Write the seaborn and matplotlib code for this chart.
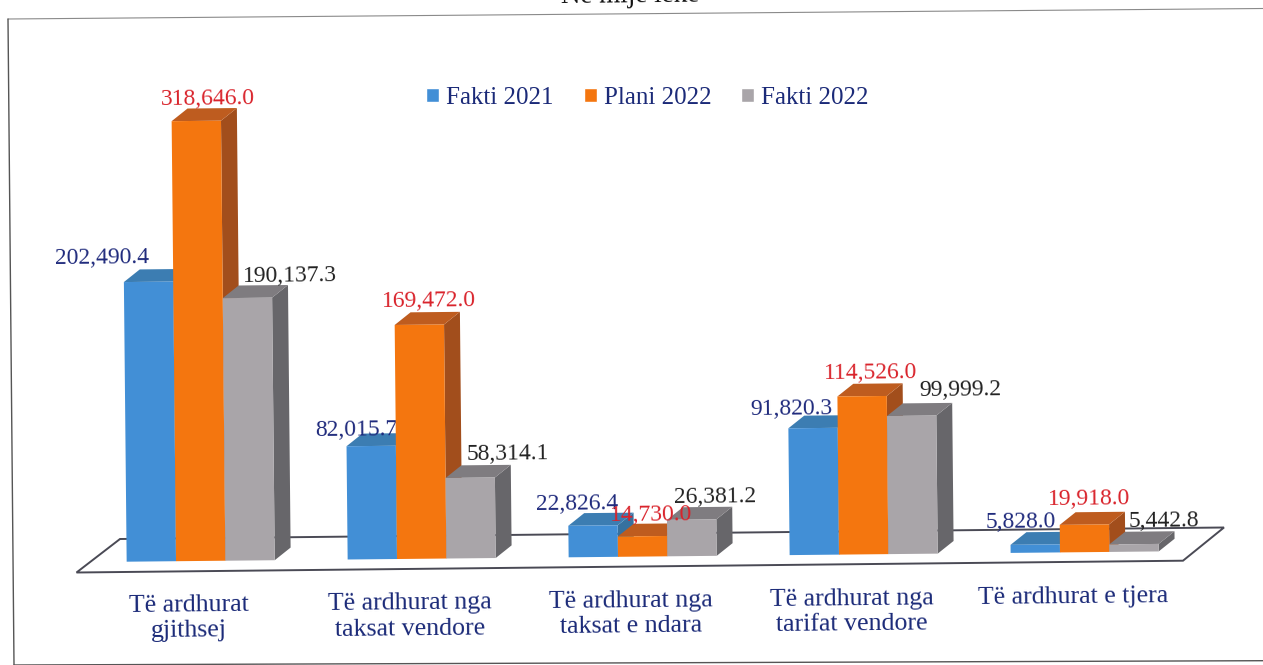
import matplotlib
matplotlib.use("Agg")
import matplotlib.pyplot as plt
import pandas as pd
import seaborn as sns
from matplotlib.lines import Line2D
from matplotlib.patches import Polygon
from matplotlib.transforms import Affine2D

categories = ["Të ardhurat\ngjithsej", "Të ardhurat nga\ntaksat vendore",
              "Të ardhurat nga\ntaksat e ndara", "Të ardhurat nga\ntarifat vendore",
              "Të ardhurat e tjera"]
series_names = ["Fakti 2021", "Plani 2022", "Fakti 2022"]
fakti_2021 = [202490.4, 82015.7, 22826.4, 91820.3, 5828.0]
plani_2022 = [318646.0, 169472.0, 14730.0, 114526.0, 19918.0]
fakti_2022 = [190137.3, 58314.1, 26381.2, 99999.2, 5442.8]

# label offsets from the top of each bar's front face, in pixels
offsets_2021 = [(-47, 24), (-15, 16), (-16, 21), (-22, 19), (-15, 22)]
offsets_plan = [(12, 22), (10, 24), (9, 21), (8, 23), (5, 26)]
offsets_2022 = [(42, 22), (37, 24), (23, 23), (49, 26), (30, 23)]

front_colors = ["#428FD6", "#F4760F", "#A9A5A9"]
top_colors = ["#3C7DB2", "#BE5C1F", "#7F7C80"]
side_colors = ["#36719F", "#A24E1C", "#67666A"]
label_colors = ["#1F2A7C", "#D9232B", "#222222"]
NAVY = "#1B2A78"

W, H = 1263, 665
PX_PER_CAT = 221.0
PX_PER_UNIT = 1.381e-3
CX0, BASE = 200.7, 561.7
DX, DY = 16.0, 12.5
TILT = 0.57

sns.set_theme(style="white")
plt.rcParams["font.family"] = ["Liberation Serif", "DejaVu Serif"]

df = pd.DataFrame({
    "kategoria": categories * 3,
    "seria": [s for s in series_names for _ in categories],
    "vlera": fakti_2021 + plani_2022 + fakti_2022,
})

fig = plt.figure(figsize=(W / 100, H / 100), dpi=100, facecolor="white")
ax = fig.add_axes([0, 0, 1, 1])
sns.barplot(data=df, x="kategoria", y="vlera", hue="seria", palette=front_colors,
            width=0.67, gap=0, saturation=1, errorbar=None, ax=ax)

ax.set_xlim((0 - CX0) / PX_PER_CAT, (W - CX0) / PX_PER_CAT)
ax.set_ylim(-(H - BASE) / PX_PER_UNIT, BASE / PX_PER_UNIT)
ax.set_xlabel("")
ax.set_ylabel("")
ax.set_yticks([])
ax.set_facecolor("none")
for s in ax.spines.values():
    s.set_visible(False)

tilt = Affine2D().rotate_deg_around(126.7, H - BASE, TILT)
data_tf = ax.transData + tilt
px_tf = Affine2D().scale(1, -1).translate(0, H)   # picture pixels, origin top-left

# frame of the scanned page
frame = [((8, 19), (1263, 8.5), "#8A8A8A", 0.8),
         ((8, 19), (14, 665), "#555555", 1.0),
         ((14, 665), (1263, 660.7), "#555555", 1.0)]
for a, b, col, lw in frame:
    fig.add_artist(Line2D([a[0], b[0]], [a[1], b[1]], transform=px_tf, color=col, lw=lw))

# floor
ax.add_patch(Polygon([(76.5, 572.5), (120, 539), (1224, 527.5), (1183, 560.7)],
                     closed=True, transform=px_tf, facecolor="white",
                     edgecolor="#4A4A55", lw=1.4, zorder=1))

dx_d = DX / PX_PER_CAT
dy_d = DY / PX_PER_UNIT
all_offsets = [offsets_2021, offsets_plan, offsets_2022]
all_values = [fakti_2021, plani_2022, fakti_2022]

for h, cont in enumerate(ax.containers):
    for c, bar in enumerate(cont):
        z = 2 + (c * 3 + h) * 0.1
        x0, w, v = bar.get_x(), bar.get_width(), bar.get_height()
        bar.set_transform(data_tf)
        bar.set_zorder(z + 0.05)
        bar.set_linewidth(0)
        side = [(x0 + w, 0), (x0 + w + dx_d, dy_d), (x0 + w + dx_d, v + dy_d), (x0 + w, v)]
        top = [(x0, v), (x0 + dx_d, v + dy_d), (x0 + w + dx_d, v + dy_d), (x0 + w, v)]
        ax.add_patch(Polygon(side, closed=True, transform=data_tf, facecolor=side_colors[h],
                             edgecolor="none", zorder=z))
        ax.add_patch(Polygon(top, closed=True, transform=data_tf, facecolor=top_colors[h],
                             edgecolor="none", zorder=z))
        # Blue labels sit behind the neighbouring orange bar, the others on top.
        lz = z + 0.07 if h == 0 else 10
        ax.annotate(f"{all_values[h][c]:,.1f}", xy=(x0 + w / 2, v), xycoords=data_tf,
                    xytext=all_offsets[h][c], textcoords="offset pixels",
                    ha="center", va="center", rotation=TILT, fontsize=17,
                    color=label_colors[h], zorder=lz)

# category labels as tick labels
ax.tick_params(axis="x", length=0, pad=-51)
for lab in ax.get_xticklabels():
    lab.set_fontsize(18.6)
    lab.set_color(NAVY)
    lab.set_linespacing(1.22)
    lab.set_rotation(TILT)
    lab.set_transform(lab.get_transform() + Affine2D().translate(-12, 0) + tilt)

# legend
handles, labels = ax.get_legend_handles_labels()
leg = ax.legend(handles, labels, ncol=3, loc="center left", frameon=False,
                bbox_to_anchor=(426 / W, 1 - 98 / H), prop={"size": 18},
                labelcolor=NAVY, handlelength=0.52, handleheight=0.52,
                handletextpad=0.28, columnspacing=1.2, borderpad=0, borderaxespad=0)
leg.set_zorder(11)

# unit note, cut by the top edge of the scan as in the reference
fig.text(630 / W, 1 - 3 / H, "Në mijë lekë", ha="center", va="baseline",
         fontsize=19.5, color="#111111", rotation=TILT)

fig.savefig("out.png", dpi=100, facecolor="white")
